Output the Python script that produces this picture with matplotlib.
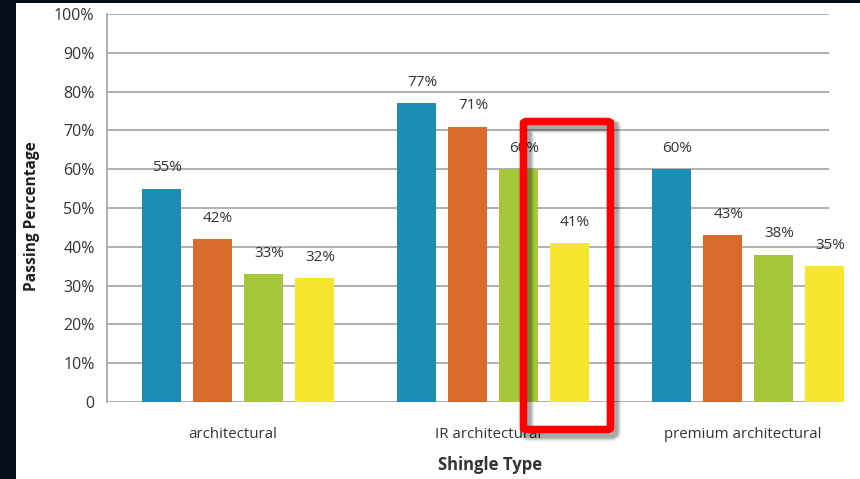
import matplotlib.pyplot as plt
from matplotlib.patches import Rectangle, FancyBboxPatch
import numpy as np

plt.rcParams['font.family'] = ['Open Sans', 'DejaVu Sans']

categories = ['architectural', 'IR architectural', 'premium architectural']
series_a = [55, 77, 60]
series_b = [42, 71, 43]
series_c = [33, 60, 38]
series_d = [32, 41, 35]
series = [series_a, series_b, series_c, series_d]
colors = ['#1d8db4', '#d66b2a', '#a6c63c', '#f4e72e']
y_ticks = [0, 10, 20, 30, 40, 50, 60, 70, 80, 90, 100]
y_tick_labels = ['0'] + [f'{v}%' for v in y_ticks[1:]]

W, H = 860, 479
fig = plt.figure(figsize=(W / 100, H / 100), dpi=100)
fig.patch.set_facecolor('white')

# dark frame strips on left and top
fig.patches.append(Rectangle((0, 0), 16 / W, 1, transform=fig.transFigure,
                             facecolor='#060d1a', edgecolor='none', zorder=0))
fig.patches.append(Rectangle((0, 1 - 3 / H), 1, 3 / H, transform=fig.transFigure,
                             facecolor='#060d1a', edgecolor='none', zorder=0))

ax_l, ax_r, ax_t, ax_b = 107, 829, 14, 402
ax = fig.add_axes([ax_l / W, 1 - ax_b / H, (ax_r - ax_l) / W, (ax_b - ax_t) / H])
ax.set_facecolor('none')

x = np.arange(len(categories))
step = 0.2
width = 0.155
grey_text = '#333333'
for i, (vals, col) in enumerate(zip(series, colors)):
    pos = x + (i - 1.5) * step
    ax.bar(pos, vals, width=width, color=col, zorder=3, clip_on=False)
    for p, v in zip(pos, vals):
        ax.annotate(f'{v}%', (p, v), xytext=(4, 15), textcoords='offset points',
                    ha='center', va='center', fontsize=11, color=grey_text,
                    zorder=4, annotation_clip=False)

ax.set_xlim(-0.514, 2.317)
ax.set_ylim(0, 100)
ax.set_yticks(y_ticks)
ax.set_yticklabels(y_tick_labels)
ax.tick_params(axis='y', length=0, pad=9, labelsize=11.5, labelcolor=grey_text)
ax.set_xticks(x - 0.02)
ax.set_xticklabels(categories)
ax.tick_params(axis='x', length=0, pad=18, labelsize=10.8, labelcolor=grey_text)
ax.grid(axis='y', color='#a3a3a3', linewidth=1.2, zorder=1)
for s in ['top', 'right', 'bottom']:
    ax.spines[s].set_visible(False)
ax.spines['left'].set_color('#a3a3a3')
ax.spines['left'].set_linewidth(1.2)

fig.text(490 / W, 1 - 465 / H, 'Shingle Type', fontsize=12, fontweight='bold',
         color=grey_text, ha='center', va='center')
fig.text(32 / W, 1 - 216 / H, 'Passing Percentage', fontsize=11.2, fontweight='bold',
         color='#222222', ha='center', va='center', rotation=90)

# highlight box around the IR architectural fourth bar, with soft shadow
bx0, by0, bx1, by1 = 523.5, 121.5, 610.5, 429.5
for k, a in zip(range(6, 0, -1), [0.04, 0.05, 0.06, 0.07, 0.08, 0.09]):
    fig.patches.append(FancyBboxPatch(
        ((bx0 + 3) / W, 1 - (by1 + 4) / H), (bx1 - bx0) / W, (by1 - by0) / H,
        boxstyle='round,pad=0,rounding_size=0.004', transform=fig.transFigure,
        facecolor='none', edgecolor='#000000', linewidth=5.4 + k, alpha=a, zorder=9))
fig.patches.append(FancyBboxPatch(
    (bx0 / W, 1 - by1 / H), (bx1 - bx0) / W, (by1 - by0) / H,
    boxstyle='round,pad=0,rounding_size=0.004', transform=fig.transFigure,
    facecolor='none', edgecolor='#ff0000', linewidth=5.4, zorder=10))

fig.savefig('out.png', dpi=100, facecolor='white')
